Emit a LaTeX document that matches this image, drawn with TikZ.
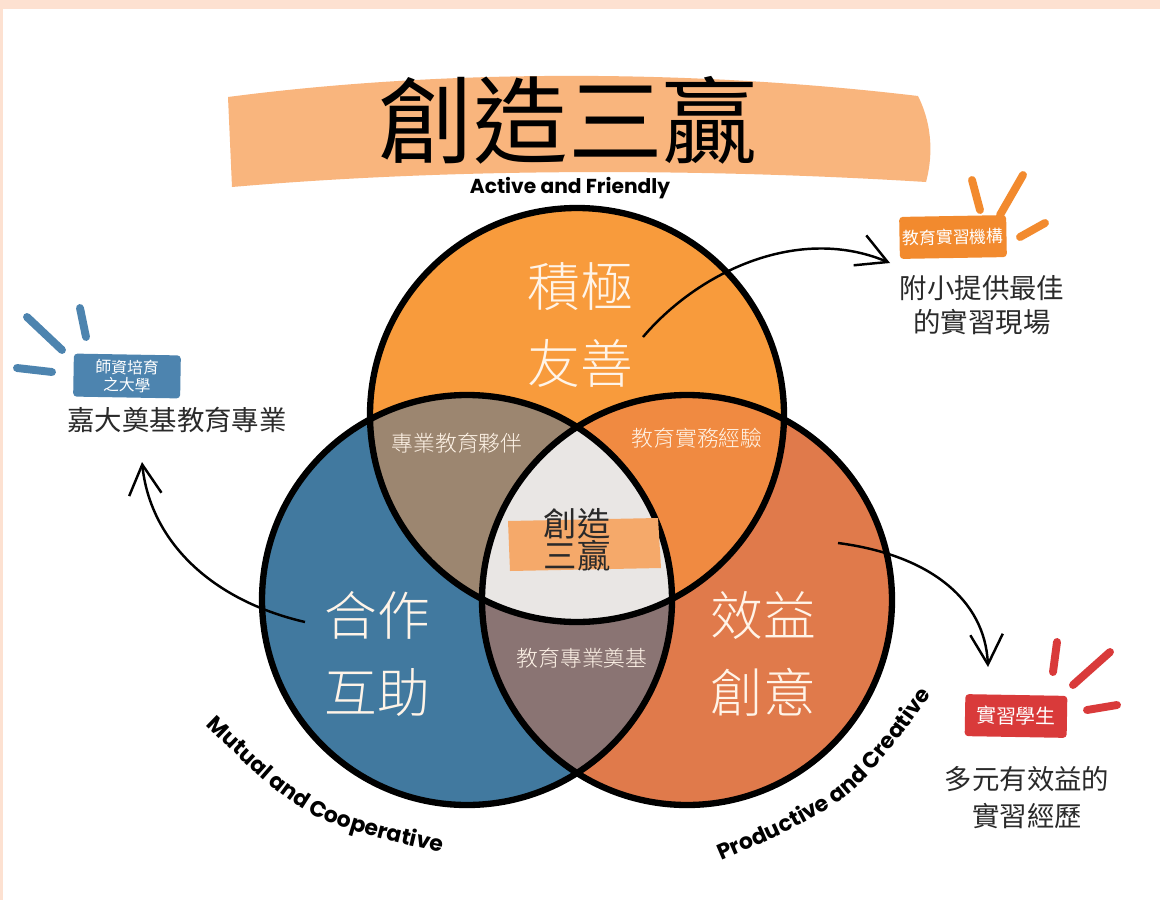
\documentclass[tikz,border=0pt]{standalone}
\usepackage{fontspec}
\newfontfamily\cjk{Noto Sans CJK TC}
\IfFontExistsTF{Noto Sans CJK TC Light}{\newfontfamily\cjklight{Noto Sans CJK TC Light}}{\let\cjklight\cjk}
\newfontfamily\enfont{Poppins}
\definecolor{framepeach}{HTML}{FDE1D1}
\definecolor{bannerorange}{HTML}{F9B57D}
\definecolor{topcirc}{HTML}{F89B3C}
\definecolor{leftcirc}{HTML}{41799F}
\definecolor{rightcirc}{HTML}{E07A4B}
\definecolor{tlcirc}{HTML}{9C8670}
\definecolor{trcirc}{HTML}{F08A41}
\definecolor{lrcirc}{HTML}{8A7473}
\definecolor{midcirc}{HTML}{E9E6E4}
\definecolor{midbrush}{HTML}{F5A96A}
\definecolor{tagblue}{HTML}{4D84AF}
\definecolor{tagorange}{HTML}{F28A2E}
\definecolor{tagred}{HTML}{D93A3A}
\definecolor{textdark}{HTML}{2A2A2A}
\definecolor{textcream}{HTML}{FFF4E8}
\usetikzlibrary{arrows.meta,positioning,decorations.text}

\begin{document}
\begin{tikzpicture}[x=0.02cm,y=-0.02cm,
  bigcjk/.style={font=\cjklight\fontsize{30}{44}\selectfont,text=textcream,align=center},
  smallcjk/.style={font=\cjklight\fontsize{12.4}{14}\selectfont,text=textcream},
  calltext/.style={font=\cjk\fontsize{15.6}{20}\selectfont,text=textdark,align=center},
  tag/.style={rounded corners=2pt,inner sep=0pt,align=center,text=white},
  ray/.style={line width=4.5pt,line cap=round},
  callarr/.style={line width=1.4pt,-{Straight Barb[length=6mm,width=6.5mm]}},
  ring/.style={line width=3.6pt,black}
]
  \useasboundingbox (0,0) rectangle (1160,900);
  \fill[white] (0,0) rectangle (1160,900);
  \fill[framepeach] (0,0) rectangle (1160,9);
  \fill[framepeach] (0,0) rectangle (3,900);

  % Title banner
  \fill[bannerorange] (228,97) .. controls (450,68) and (700,70) .. (918,96)
    .. controls (934,128) and (932,160) .. (926,182)
    .. controls (700,168) and (450,168) .. (232,187) -- cycle;
  \node[font=\cjk\fontsize{54}{60}\selectfont] (title) at (568,120) {創造三贏};
  \node[font=\enfont\bfseries\fontsize{11.5}{13}\selectfont] (active) at (570,188) {Active and Friendly};

  % Circles
  \fill[topcirc] (577,415) circle[radius=207];
  \fill[leftcirc] (467,600) circle[radius=205];
  \fill[rightcirc] (687,600) circle[radius=205];
  \begin{scope}
    \clip (577,415) circle[radius=207];
    \fill[tlcirc] (467,600) circle[radius=205];
    \fill[trcirc] (687,600) circle[radius=205];
  \end{scope}
  \begin{scope}
    \clip (467,600) circle[radius=205];
    \fill[lrcirc] (687,600) circle[radius=205];
    \clip (687,600) circle[radius=205];
    \fill[midcirc] (577,415) circle[radius=207];
  \end{scope}
  \draw[ring] (577,415) circle[radius=207];
  \draw[ring] (467,600) circle[radius=205];
  \draw[ring] (687,600) circle[radius=205];

  % Labels in the circles
  \node[bigcjk] (active-zh) at (580,325) {積極\\友善};
  \node[bigcjk] (mutual-zh) at (377,654) {合作\\互助};
  \node[bigcjk] (product-zh) at (763,654) {效益\\創意};
  \node[smallcjk] (partner) at (457,443) {專業教育夥伴};
  \node[smallcjk] (practice) at (697,438) {教育實務經驗};
  \node[smallcjk] (basis) at (582,658) {教育專業奠基};
  \fill[midbrush] (508,521) -- (658,518) -- (661,568) -- (510,571) -- cycle;
  \node[font=\cjk\fontsize{19}{18.5}\selectfont,text=textdark,align=center] (center) at (577,540) {創造\\三贏};

  % Curved captions
  \path[decorate,decoration={text along path,text align=center,
    text={|\enfont\bfseries\fontsize{12.5}{14}\selectfont|Mutual and Cooperative}}]
    (196,716) .. controls (305,822) .. (455,856);
  \path[decorate,decoration={text along path,text align=center,
    text={|\enfont\bfseries\fontsize{12.5}{14}\selectfont|Productive and Creative}}]
    (700,870) .. controls (852,805) .. (945,676);

  % Left callout
  \draw[ray,tagblue] (27,317) -- (62,350);
  \draw[ray,tagblue] (80,308) -- (86,337);
  \draw[ray,tagblue] (17,368) -- (52,372);
  \node[tag,fill=tagblue,minimum width=2.14cm,minimum height=0.86cm,rotate=-1,
    font=\cjk\fontsize{9}{10}\selectfont] (uni) at (127,376) {師資培育\\之大學};
  \node[calltext] (uni-text) at (177,420) {嘉大奠基教育專業};

  % Top right callout
  \draw[ray,tagorange] (972,180) -- (980,210);
  \draw[ray,tagorange] (1023,175) -- (1000,215);
  \draw[ray,tagorange] (1020,237) -- (1045,223);
  \node[tag,fill=tagorange,minimum width=2.14cm,minimum height=0.84cm,rotate=1,
    font=\cjk\fontsize{9.6}{11}\selectfont] (school) at (953,237) {教育實習機構};
  \node[calltext,font=\cjk\fontsize{15.6}{19.3}\selectfont] (school-text) at (982,305) {附小提供最佳\\的實習現場};

  % Bottom right callout
  \draw[ray,tagred] (1057,642) -- (1053,672);
  \draw[ray,tagred] (1110,652) -- (1073,685);
  \draw[ray,tagred] (1087,710) -- (1117,705);
  \node[tag,fill=tagred,minimum width=2.04cm,minimum height=0.84cm,rotate=-1,
    font=\cjk\fontsize{11.3}{13}\selectfont] (student) at (1016,716) {實習學生};
  \node[calltext,font=\cjk\fontsize{15.6}{21}\selectfont] (student-text) at (1027,798) {多元有效益的\\實習經歷};

  % Arrows
  \coordinate (a-top) at (643,337);
  \coordinate (a-top-end) at (890,263);
  \coordinate (a-left) at (305,622);
  \coordinate (a-left-end) at (142,462);
  \coordinate (a-right) at (838,543);
  \coordinate (a-right-end) at (988,667);
  \draw[callarr] (a-top) .. controls (700,270) and (800,225) .. (a-top-end);
  \draw[callarr] (a-left) .. controls (210,600) and (150,540) .. (a-left-end);
  \draw[callarr] (a-right) .. controls (930,555) and (985,600) .. (a-right-end);
\end{tikzpicture}
\end{document}
